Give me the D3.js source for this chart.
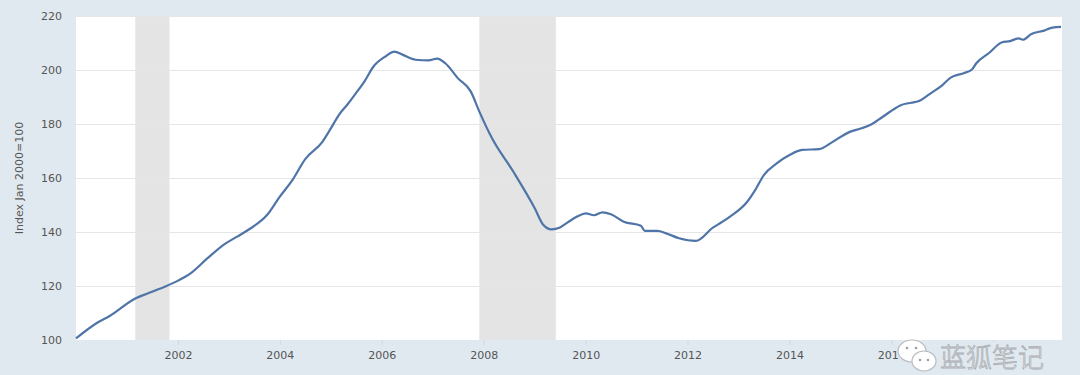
<!DOCTYPE html>
<html><head><meta charset="utf-8">
<script src="https://cdn.jsdelivr.net/npm/d3@7"></script>
<style>
html,body{margin:0;padding:0;background:#e1e9f0;}
svg{display:block;}
</style></head>
<body>
<svg id="chart" width="1080" height="375"></svg>
<script>
// ---- data ----
const dates = ["2000-01","2000-06","2000-09","2001-03","2001-06","2001-10","2002-01","2002-04","2002-08","2002-12",
"2003-03","2003-06","2003-10","2004-01","2004-04","2004-07","2004-11","2005-01","2005-03",
"2005-05","2005-07","2005-09","2005-11","2006-02","2006-04","2006-06","2006-09","2006-12","2007-02",
"2007-04","2007-07","2007-10","2007-12","2008-03","2008-08","2009-01","2009-03","2009-05","2009-07",
"2009-09","2009-11","2010-01","2010-03","2010-05","2010-07","2010-10","2011-02","2011-03","2011-06",
"2011-08","2011-11","2012-03","2012-07","2012-09","2012-11","2013-03","2013-05","2013-07","2013-10",
"2014-01","2014-04","2014-08","2014-11","2015-03","2015-06","2015-08","2015-11","2016-03","2016-08",
"2016-10","2017-01","2017-03","2017-06","2017-08","2017-09","2017-12","2018-03","2018-05","2018-07",
"2018-08","2018-10","2019-01","2019-03","2019-05"];
const values = [100.6,106.4,109.0,115.4,117.3,119.8,122.0,124.7,130.3,135.5,
138.3,141.2,146.3,153.1,159.3,167.0,173.4,178.4,183.5,
187.3,191.5,196.0,201.2,205.2,206.8,205.6,203.8,203.6,204.2,
202.5,196.9,192.0,184.6,174.7,162.3,148.8,142.8,141.0,141.7,
143.8,145.7,146.9,146.2,147.3,146.6,143.8,142.3,140.4,140.4,
139.5,137.7,136.7,141.6,143.6,145.7,151.0,155.6,161.1,165.4,
168.5,170.4,170.7,173.2,176.9,178.4,179.6,182.7,186.8,188.9,
191.1,194.4,197.2,198.8,200.2,202.5,206.3,210.2,210.7,211.7,
211.2,213.3,214.6,215.7,216.0];
const recessionStarts = ["2001-03","2007-12"];
const recessionEnds = ["2001-11","2009-06"];
const yTicks = [100,120,140,160,180,200,220];
const xTickYears = [2002,2004,2006,2008,2010,2012,2014,2016,2018];
const yTitle = "Index Jan 2000=100";
const watermark = "蓝狐笔记";

// ---- chart ----
const parse = d3.timeParse("%Y-%m");
const data = dates.map((d,i)=>({date:parse(d), value:values[i]}));
const svg = d3.select("#chart");
const L=76, R=1061, T=16, B=340;
const x = d3.scaleTime().domain([parse("2000-01"), parse("2019-05")]).range([L,R]);
const y = d3.scaleLinear().domain([100,220]).range([B,T]);

svg.append("rect").attr("x",L).attr("y",T).attr("width",R-L+1).attr("height",B-T).attr("fill","#ffffff");

// recession bars
svg.append("g").selectAll("rect").data(recessionStarts).join("rect")
  .attr("x",(d)=>x(parse(d)))
  .attr("y",T)
  .attr("width",(d,i)=>x(parse(recessionEnds[i]))-x(parse(d)))
  .attr("height",B-T)
  .attr("fill","#e4e4e4");

// grid
svg.append("g").selectAll("line").data(yTicks.slice(1)).join("line")
  .attr("x1",L).attr("x2",R+1)
  .attr("y1",d=>Math.round(y(d))+0.5).attr("y2",d=>Math.round(y(d))+0.5)
  .attr("stroke","#e6e6e6").attr("stroke-width",1);

// y axis
const yAxis = svg.append("g").attr("transform",`translate(${L-12},0)`)
  .call(d3.axisLeft(y).tickValues(yTicks).tickSize(0).tickPadding(2));
yAxis.select(".domain").remove();
yAxis.selectAll("text").attr("fill","#555").style("font-family","DejaVu Sans").style("font-size","11px");

// x axis
const xAxis = svg.append("g").attr("transform",`translate(0,${B})`)
  .call(d3.axisBottom(x).tickValues(xTickYears.map(yr=>new Date(yr,0,1))).tickFormat(d3.timeFormat("%Y")).tickSize(5).tickPadding(6));
xAxis.select(".domain").remove();
xAxis.selectAll("line").attr("stroke","#d0d8e0");
xAxis.selectAll("text").attr("fill","#555").style("font-family","DejaVu Sans").style("font-size","11px");

// y title
svg.append("text").attr("transform","translate(23,178) rotate(-90)")
  .attr("text-anchor","middle").attr("fill","#555")
  .style("font-family","DejaVu Sans").style("font-size","11px").text(yTitle);

// line
svg.append("path").datum(data)
  .attr("fill","none").attr("stroke","#4f74a8").attr("stroke-width",2.2)
  .attr("stroke-linejoin","round")
  .attr("d", d3.line().x(d=>x(d.date)).y(d=>y(d.value)).curve(d3.curveMonotoneX));

// watermark (sits over the axis labels, as in the reference)
const wm = svg.append("g");
wm.append("rect").attr("x",899).attr("y",342).attr("width",150).attr("height",33).attr("fill","#e1e9f0");
wm.append("ellipse").attr("cx",912).attr("cy",351).attr("rx",14).attr("ry",11)
  .attr("fill","#ffffff").attr("stroke","#b8bcc0").attr("stroke-width",1.2);
wm.append("ellipse").attr("cx",924).attr("cy",361).attr("rx",12).attr("ry",10)
  .attr("fill","#ffffff").attr("stroke","#b8bcc0").attr("stroke-width",1.2);
[[907,348],[916,348],[920,360],[928,360]].forEach(p=>
  wm.append("circle").attr("cx",p[0]).attr("cy",p[1]).attr("r",1.3).attr("fill","#9aa0a6"));
wm.append("text").attr("x",940).attr("y",367)
  .attr("fill","#ffffff").attr("stroke","#a9adb2").attr("stroke-width",0.8)
  .style("font-family","Noto Sans CJK SC").style("font-size","26px").style("font-weight","300")
  .text(watermark);
</script>
</body></html>
